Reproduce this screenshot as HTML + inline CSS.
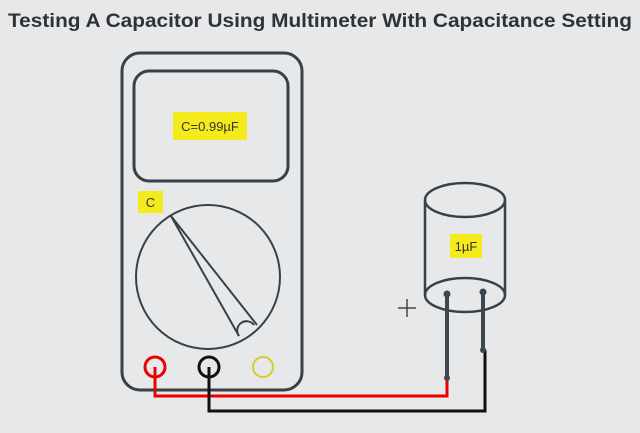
<!DOCTYPE html>
<html><head><style>
body{margin:0;width:640px;height:428px;background:#e7e8ea;overflow:hidden;font-family:"Liberation Sans",sans-serif}
</style></head><body>
<svg width="640" height="428" xmlns="http://www.w3.org/2000/svg">
<text x="320" y="27" text-anchor="middle" font-family="Liberation Sans, sans-serif" font-weight="bold" font-size="19.5" fill="#2f3336" textLength="624" lengthAdjust="spacingAndGlyphs">Testing A Capacitor Using Multimeter With Capacitance Setting</text>
<rect x="122" y="53" width="180" height="337" rx="18" fill="none" stroke="#3a4145" stroke-width="3"/>
<rect x="134" y="71" width="154" height="110" rx="15" fill="none" stroke="#3a4145" stroke-width="3"/>
<rect x="173" y="112" width="74" height="28" fill="#f4ea1c"/>
<text x="210" y="131" text-anchor="middle" font-size="13" fill="#333">C=0.99µF</text>
<rect x="138" y="191" width="25" height="22" fill="#f4ea1c"/>
<text x="150.5" y="207" text-anchor="middle" font-size="13" fill="#333">C</text>
<circle cx="208" cy="277" r="72" fill="none" stroke="#3a4145" stroke-width="2"/>
<path d="M171 216 L239 336 M171 216 L257 325" stroke="#3a4145" stroke-width="2" fill="none"/>
<path d="M239 336 A9 9 0 0 1 254 325" fill="none" stroke="#3a4145" stroke-width="2"/>
<circle cx="155" cy="367" r="10" fill="none" stroke="#e00" stroke-width="3"/>
<circle cx="209" cy="367" r="10" fill="none" stroke="#111" stroke-width="3"/>
<circle cx="263" cy="367" r="10" fill="none" stroke="#d8cc2a" stroke-width="2"/>
<path d="M155 367 V396 H447 V378" fill="none" stroke="#e00" stroke-width="3"/>
<path d="M209 367 V411 H485 V350" fill="none" stroke="#111" stroke-width="3"/>
<path d="M425 200 V295 M505 200 V295" stroke="#3a4145" stroke-width="2.5"/>
<ellipse cx="465" cy="200" rx="40" ry="17" fill="none" stroke="#3a4145" stroke-width="2.5"/>
<ellipse cx="465" cy="295" rx="40" ry="17" fill="none" stroke="#3a4145" stroke-width="2.5"/>
<rect x="450" y="234" width="32" height="24" fill="#f4ea1c"/>
<text x="466" y="251" text-anchor="middle" font-size="13" fill="#333">1µF</text>
<path d="M447 294 V378 M483 292 V350" stroke="#3d474d" stroke-width="4"/>
<circle cx="447" cy="294" r="3.5" fill="#3d474d"/><circle cx="483" cy="292" r="3.5" fill="#3d474d"/>
<circle cx="447" cy="378" r="3" fill="#3d474d"/><circle cx="483" cy="350" r="3" fill="#3d474d"/>
<path d="M398 308 H416 M407 299 V317" stroke="#444" stroke-width="1.5"/>
</svg>
</body></html>
